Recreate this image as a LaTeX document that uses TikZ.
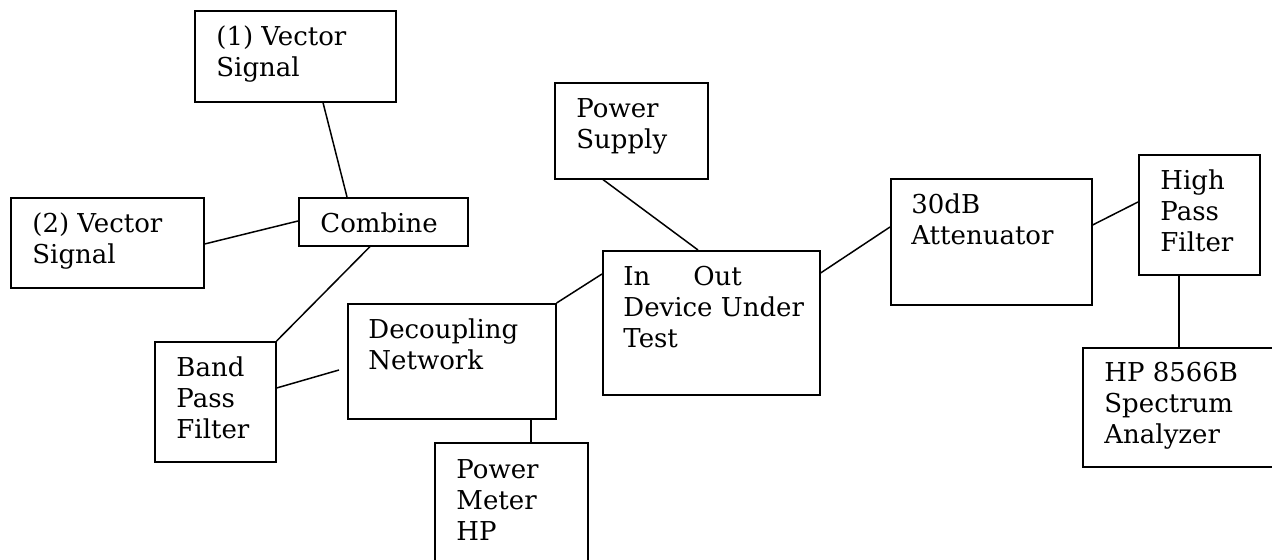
\documentclass[tikz,border=0pt]{standalone}
\usepackage{fontspec}
\setmainfont{DejaVu Serif}
\usetikzlibrary{calc}
\newcommand\boxtext[1]{\begin{tabular}[t]{@{}l@{}}#1\end{tabular}}
\begin{document}
\begin{tikzpicture}[x=0.5pt,y=-0.5pt,
  box/.style={draw,line width=0.8pt,rectangle,inner sep=0pt,anchor=north west},
  lbl/.style={anchor=base west,inner sep=0pt,font=\fontsize{13}{15.5}\selectfont},
  wire/.style={line width=0.75pt}]
\useasboundingbox (0,0) rectangle (1272,560);
\clip (0,0) rectangle (1272,560);
% boxes
\node[box,minimum width=100.5pt,minimum height=45.5pt] (vs1) at (194,10) {};
\node[box,minimum width=96.5pt,minimum height=45pt] (vs2) at (10,197) {};
\node[box,minimum width=84.5pt,minimum height=24pt] (comb) at (298,197) {};
\node[box,minimum width=60.5pt,minimum height=60pt] (bpf) at (154,341) {};
\node[box,minimum width=104pt,minimum height=57.5pt] (dec) at (347,303) {};
\node[box,minimum width=76.5pt,minimum height=69pt] (pm) at (434,442) {};
\node[box,minimum width=76.5pt,minimum height=48pt] (ps) at (554,82) {};
\node[box,minimum width=108.5pt,minimum height=72pt] (dut) at (602,250) {};
\node[box,minimum width=100.5pt,minimum height=63pt] (att) at (890,178) {};
\node[box,minimum width=60.5pt,minimum height=60pt] (hpf) at (1138,154) {};
\node[box,minimum width=104pt,minimum height=59.5pt] (sa) at (1082,347) {};
% texts
\node[lbl] (vs1t) at ($(vs1.north west)+(22,36)$) {\boxtext{(1) Vector\\Signal}};
\node[lbl] (vs2t) at ($(vs2.north west)+(22,36)$) {\boxtext{(2) Vector\\Signal}};
\node[lbl] (combt) at ($(comb.north west)+(22,36)$) {\boxtext{Combine}};
\node[lbl] (bpft) at ($(bpf.north west)+(22,35.5)$) {\boxtext{Band\\Pass\\Filter}};
\node[lbl] (dect) at ($(dec.north west)+(21,36)$) {\boxtext{Decoupling\\Network}};
\node[lbl] (pmt) at ($(pm.north west)+(22,36)$) {\boxtext{Power\\Meter\\HP}};
\node[lbl] (pst) at ($(ps.north west)+(22,36)$) {\boxtext{Power\\Supply}};
\node[lbl] (dutt) at ($(dut.north west)+(21,35.5)$) {\boxtext{\makebox[35pt][l]{In}Out\\Device Under\\Test}};
\node[lbl] (attt) at ($(att.north west)+(21,35.5)$) {\boxtext{30dB\\Attenuator}};
\node[lbl] (hpft) at ($(hpf.north west)+(22,36)$) {\boxtext{High\\Pass\\Filter}};
\node[lbl] (sat) at ($(sa.north west)+(22,34.5)$) {\boxtext{HP 8566B\\Spectrum\\Analyzer}};
% connectors
\coordinate (decin) at ($(dec.north west)+(-8,67)$);
\draw[wire] ($(vs1.south west)+(129,0)$) -- ($(comb.north west)+(49,0)$);
\draw[wire] ($(vs2.north east)+(0,47)$) -- ($(comb.north west)+(0,24)$);
\draw[wire] ($(comb.south west)+(72,0)$) -- (bpf.north east);
\draw[wire] ($(bpf.north east)+(0,47)$) -- (decin);
\draw[wire] (dec.north east) -- ($(dut.north west)+(0,24)$);
\draw[wire] ($(dec.south west)+(184,0)$) -- ($(pm.north west)+(97,0)$);
\draw[wire] ($(ps.south west)+(49,0)$) -- ($(dut.north west)+(96,0)$);
\draw[wire] ($(dut.north east)+(0,23)$) -- ($(att.north west)+(0,49)$);
\draw[wire] ($(att.north east)+(0,47)$) -- ($(hpf.north west)+(0,48)$);
\draw[wire] ($(hpf.south west)+(41,0)$) -- ($(sa.north west)+(97,0)$);
\end{tikzpicture}
\end{document}
